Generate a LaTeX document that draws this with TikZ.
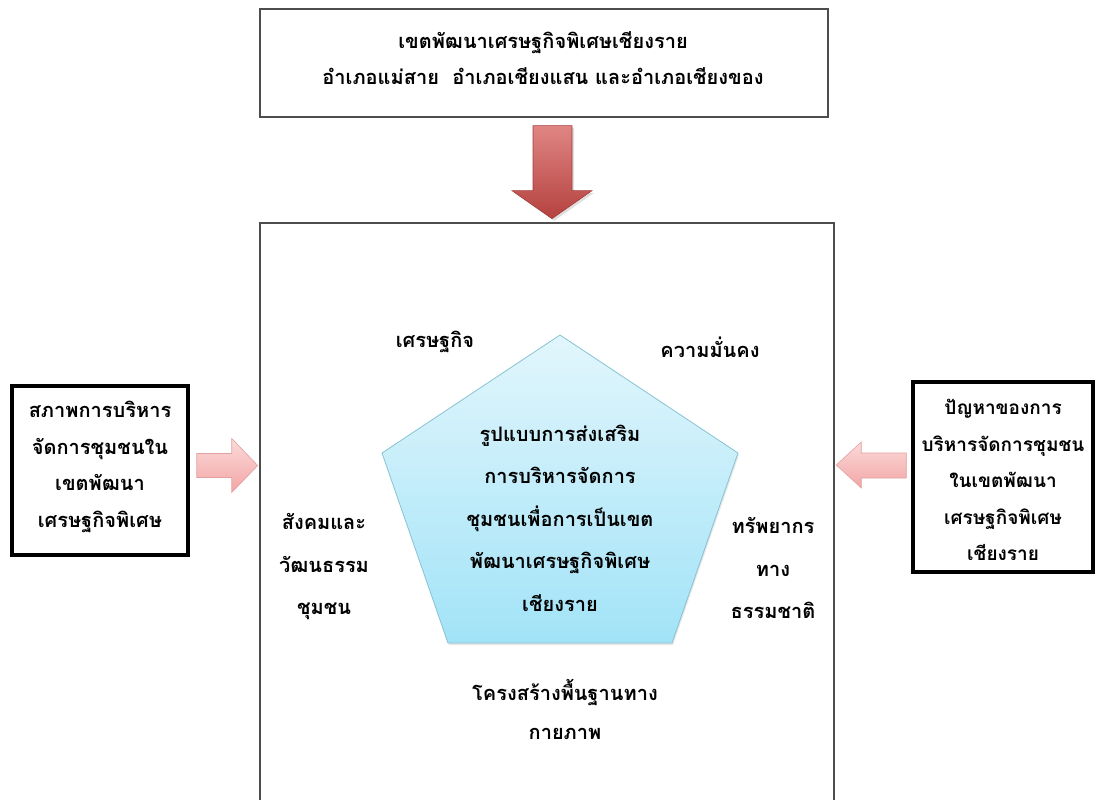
\documentclass[tikz,border=0pt]{standalone}
\usepackage{fontspec}
\newfontfamily\thai[Script=Thai]{Loma}
\usetikzlibrary{shadows}
\definecolor{boxgray}{HTML}{4D4D4D}
\definecolor{penttop}{HTML}{E2F6FC}
\definecolor{pentbot}{HTML}{A2E3F7}
\definecolor{pentline}{HTML}{86C3D3}
\definecolor{redtop}{HTML}{E38B89}
\definecolor{redbot}{HTML}{B5423F}
\definecolor{redline}{HTML}{A33B39}
\definecolor{pinktop}{HTML}{FCDADA}
\definecolor{pinkbot}{HTML}{F2A5A5}
\definecolor{pinkline}{HTML}{E3A0A0}

\begin{document}
\begin{tikzpicture}[x=1pt,y=-1pt,
    every node/.style={font=\thai\bfseries\fontsize{20}{36.5}\selectfont,align=center,inner sep=0pt},
    wide/.style={font=\thai\bfseries\fontsize{20}{42.5}\selectfont},
    thinbox/.style={draw=boxgray,line width=1.3pt},
    thickbox/.style={draw=black,line width=3.5pt},
    redarrow/.style={draw=redline,line width=0.6pt,top color=redtop,bottom color=redbot,drop shadow={opacity=0.25}},
    pinkarrow/.style={draw=pinkline,line width=0.6pt,top color=pinktop,bottom color=pinkbot}]
  \useasboundingbox (0,0) rectangle (1098,800);
  \clip (0,0) rectangle (1098,800);

  % outer boxes
  \node[thinbox,minimum width=568pt,minimum height=108pt] (zone) at (544,63) {};
  \node (zonetext) at (543,58) {เขตพัฒนาเศรษฐกิจพิเศษเชียงราย\\อำเภอแม่สาย\ \ อำเภอเชียงแสน และอำเภอเชียงของ};
  \draw[draw=boxgray,line width=1.8pt] (260,810) -- (260,223) coordinate (mainnw) -- (834,223) -- (834,810);
  \node[thickbox,minimum width=176pt,minimum height=169pt] (state) at (100,470.5) {};
  \node (statetext) at (100,467) {สภาพการบริหาร\\จัดการชุมชนใน\\เขตพัฒนา\\เศรษฐกิจพิเศษ};
  \node[thickbox,minimum width=180pt,minimum height=190pt] (problem) at (1003,477) {};
  \node[font=\thai\bfseries\fontsize{19}{36.5}\selectfont] (problemtext) at (1003,480) {ปัญหาของการ\\บริหารจัดการชุมชน\\ในเขตพัฒนา\\เศรษฐกิจพิเศษ\\เชียงราย};

  % block arrows
  \draw[redarrow] (zone.south) ++(-11,8) -- ++(39,0) -- ++(0,65) -- ++(20,0)
    -- ++(-40,28) -- ++(-40,-28) -- ++(21,0) -- cycle;
  \draw[pinkarrow] (state.east) ++(7,-17) -- ++(35,0) -- ++(0,-15) -- ++(26,27)
    -- ++(-26,27) -- ++(0,-15) -- ++(-35,0) -- cycle;
  \draw[pinkarrow] (problem.west) ++(-5,-24) -- ++(-45,0) -- ++(0,-11) -- ++(-25,23)
    -- ++(25,23) -- ++(0,-10) -- ++(45,0) -- cycle;

  % pentagon
  \draw[draw=pentline,line width=0.8pt,top color=penttop,bottom color=pentbot,
    drop shadow={opacity=0.2,shadow xshift=1pt,shadow yshift=-2pt}]
    (560,335) -- (738,453) -- (672,643) -- (448,643) -- (382,453) -- cycle;
  \node[wide] (core) at (560,518) {รูปแบบการส่งเสริม\\การบริหารจัดการ\\ชุมชนเพื่อการเป็นเขต\\พัฒนาเศรษฐกิจพิเศษ\\เชียงราย};

  % dimensions
  \node (economy) at (435,342) {เศรษฐกิจ};
  \node (security) at (710,347) {ความมั่นคง};
  \node[wide] (society) at (324,567) {สังคมและ\\วัฒนธรรม\\ชุมชน};
  \node[wide] (resource) at (773,568) {ทรัพยากร\\ทาง\\ธรรมชาติ};
  \node[font=\thai\bfseries\fontsize{20}{39}\selectfont] (infra) at (565,709) {โครงสร้างพื้นฐานทาง\\กายภาพ};
\end{tikzpicture}
\end{document}
